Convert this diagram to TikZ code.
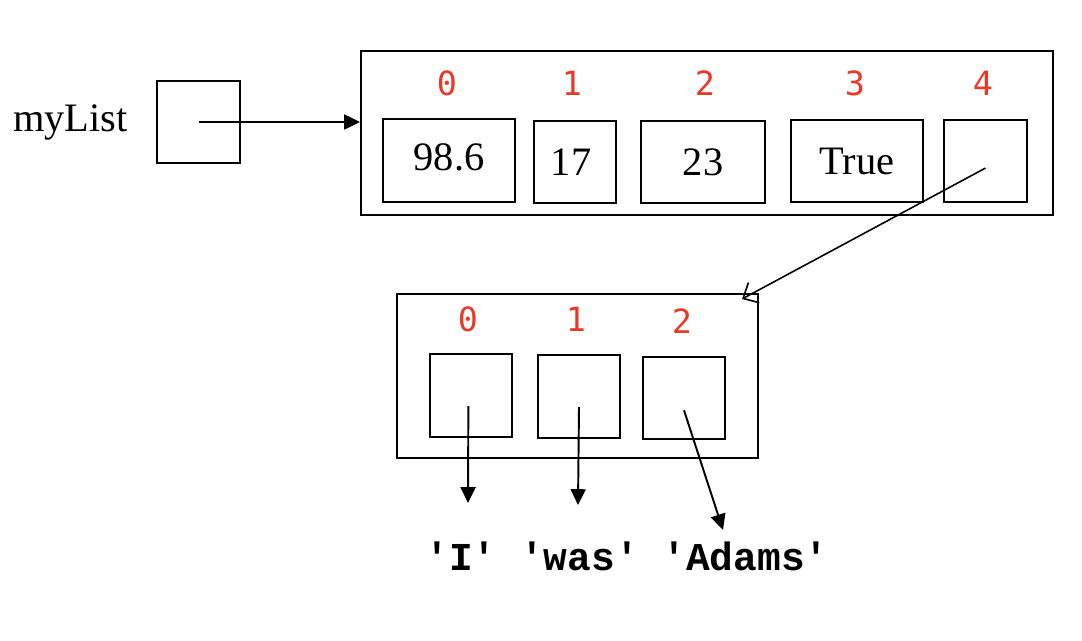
\documentclass[tikz,border=0pt]{standalone}
\usepackage{fontspec}
\setmainfont{Liberation Serif}
\setmonofont{Liberation Mono}
\newfontfamily\idxfont{DejaVu Sans Mono}
\usetikzlibrary{fit,arrows.meta}
\definecolor{idxred}{RGB}{232,58,40}
\begin{document}
\begin{tikzpicture}[x=0.02cm,y=-0.02cm,
  cell/.style={draw,line width=1.1pt,inner sep=0pt},
  idx/.style={text=idxred,font=\idxfont\fontsize{19}{19}\selectfont},
  val/.style={font=\fontsize{23}{23}\selectfont},
  ptr/.style={line width=1.1pt,-{Triangle[length=9pt,width=8.5pt]}},
  ref/.style={line width=0.9pt,-{Straight Barb[length=7pt,width=13pt,line width=0.9pt]}},
  ]
\useasboundingbox (0,0) rectangle (1082,640);

% variable name and its box
\node[val,anchor=west] (name) at (7,122) {myList};
\node[cell,fit={(157,81) (240,163)}] (var) {};

% outer list and its cells
\node[cell,fit={(361,51) (1053,215)}] (outer) {};
\node[cell,fit={(383,119) (515,202)}] (c0) {};
\node[cell,fit={(534,121) (616,203)}] (c1) {};
\node[cell,fit={(641,121) (765,203)}] (c2) {};
\node[cell,fit={(791,120) (923,202)}] (c3) {};
\node[cell,fit={(944,120) (1027,202)}] (c4) {};
\node[val] (v0) at (449,157) {98.6};
\node[val] (v1) at (571,162) {17};
\node[val] (v2) at (703,162) {23};
\node[val] (v3) at (857,161) {True};

\node[idx] (i0) at (447,83) {0};
\node[idx] (i1) at (572,83) {1};
\node[idx] (i2) at (705,83) {2};
\node[idx] (i3) at (855,83) {3};
\node[idx] (i4) at (983,83) {4};

% inner list and its cells
\node[cell,fit={(397,294) (758,458)}] (inner) {};
\node[cell,fit={(430,354) (512,437)}] (p0) {};
\node[cell,fit={(538,355) (620,438)}] (p1) {};
\node[cell,fit={(643,357) (725,439)}] (p2) {};
\node[idx] (j0) at (468,319) {0};
\node[idx] (j1) at (576,319) {1};
\node[idx] (j2) at (682,321) {2};

% string values
\node[font=\ttfamily\bfseries\fontsize{22.5}{22.5}\selectfont,anchor=west,inner sep=0pt] (strs) at (425,556) {'I' 'was' 'Adams'};
\coordinate (sI) at (468,503);
\coordinate (swas) at (578,505);
\coordinate (sAdams) at (723,530);
\coordinate (inTop) at (742,299);

% references
\draw[ptr] (var.center) -- (var.center -| outer.west);
\draw[ref] ([yshift=-4pt]c4.center) -- (inTop);
\draw[ptr] ([xshift=-1.5pt,yshift=-6pt]p0.center) -- (sI);
\draw[ptr] ([yshift=-6pt]p1.center) -- (swas);
\draw[ptr] ([yshift=-7pt]p2.center) -- (sAdams);
\end{tikzpicture}
\end{document}
